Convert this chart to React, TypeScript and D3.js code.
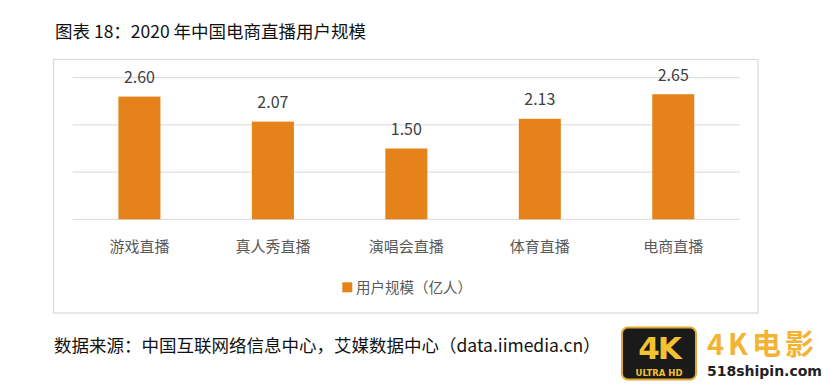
import React from "react";
import * as d3 from "d3";

const categories = ["游戏直播", "真人秀直播", "演唱会直播", "体育直播", "电商直播"];
const values = [2.6, 2.07, 1.5, 2.13, 2.65];
const yTicks = [0, 1, 2, 3];
const seriesName = "用户规模（亿人）";
const title = "图表 18：2020 年中国电商直播用户规模";
const source = "数据来源：中国互联网络信息中心，艾媒数据中心（data.iimedia.cn）";

const W = 831;
const H = 384;
const FONT = "'Noto Sans CJK SC', 'Noto Sans', sans-serif";
const BAR = "#E5831A";

export default function App() {
  const left = 72.7;
  const right = 740;
  const x = d3.scaleBand<string>().domain(categories).range([left, right]).padding(0);
  const y = d3.scaleLinear().domain([0, 3]).range([219.3, 77.7]);
  const bw = x.bandwidth() * 0.315;

  return (
    <div style={{ position: "absolute", left: 0, top: 0 }}>
      <svg width={W} height={H} style={{ display: "block" }} fontFamily={FONT}>
        <rect x={0} y={0} width={W} height={H} fill="#fff" />
        <text x={55} y={37.5} fontSize={17.5} fill="#111">{title}</text>
        <rect x={53.5} y={59.5} width={704.5} height={253.5} fill="#fff" stroke="#D9D9D9" strokeWidth={1.2} />
        {yTicks.map((t) => (
          <line key={t} x1={left} x2={right} y1={y(t)} y2={y(t)} stroke="#D9D9D9" strokeWidth={1} />
        ))}
        {categories.map((c, i) => {
          const cx = (x(c) as number) + x.bandwidth() / 2;
          return (
            <g key={c}>
              <rect x={cx - bw / 2} y={y(values[i])} width={bw} height={y(0) - y(values[i])} fill={BAR} />
              <text x={cx} y={y(values[i]) - 13.5} textAnchor="middle" fontSize={16} fill="#404040">
                {values[i].toFixed(2)}
              </text>
              <text x={cx} y={252} textAnchor="middle" fontSize={15} fill="#595959">{c}</text>
            </g>
          );
        })}
        <rect x={342.3} y={282.3} width={10} height={10} fill={BAR} />
        <text x={356} y={292.5} fontSize={14.5} fill="#595959">{seriesName}</text>
        <text x={54} y={352} fontSize={17.5} fill="#111">{source}</text>
        <g>
          <rect x={622} y={327.5} width={74} height={52} rx={6} fill="#1a1a1a" stroke="#E0A830" strokeWidth={2} />
          <text x={659} y={359} textAnchor="middle" fontSize={31} fontWeight="bold" fill="#F2C230" fontFamily="'DejaVu Sans', sans-serif" letterSpacing={-2}>4K</text>
          <text x={659} y={376} textAnchor="middle" fontSize={8.5} fontWeight="bold" fill="#F2C230" fontFamily="'DejaVu Sans', sans-serif">ULTRA HD</text>
          <text x={707} y={355} fontSize={29} fontWeight="bold" fill="#F5B335" fontFamily={FONT} letterSpacing={4}>4K电影</text>
          <text x={707} y={376} fontSize={14} fontWeight="bold" fill="#222" fontFamily="'DejaVu Sans', sans-serif">518shipin.com</text>
        </g>
      </svg>
    </div>
  );
}
